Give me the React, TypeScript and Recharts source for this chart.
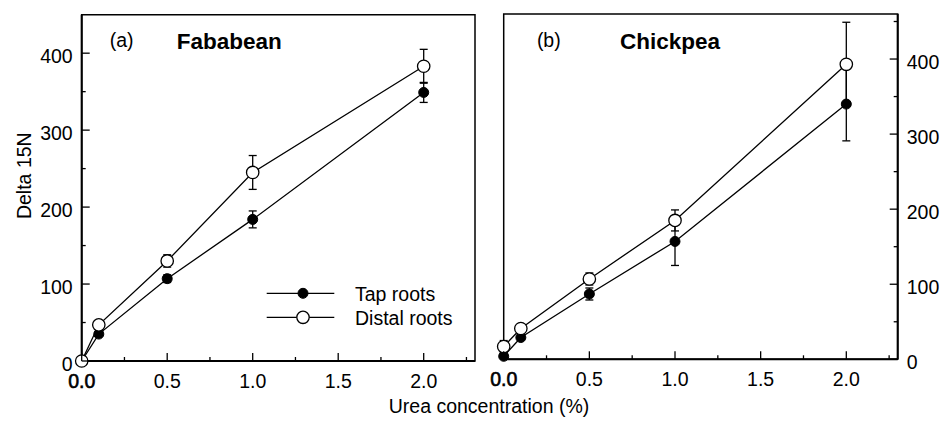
import React from 'react';
import { LineChart, Line, XAxis, YAxis, ErrorBar, ReferenceArea } from 'recharts';

const concentration = [0, 0.1, 0.5, 1.0, 2.0];
const fababeanTap = [0, 35, 107, 184, 349];
const fababeanTapErr = [0, 0, 5, 11, 13];
const fababeanDistal = [0, 47, 130, 245, 383];
const fababeanDistalErr = [0, 0, 8, 22, 22];
const chickpeaTap = [4, 29, 87, 157, 340];
const chickpeaTapErr = [0, 0, 8, 32, 49];
const chickpeaDistal = [17, 41, 107, 185, 393];
const chickpeaDistalErr = [8, 0, 8, 14, 56];

const xTicks = [0, 0.25, 0.5, 0.75, 1.0, 1.25, 1.5, 1.75, 2.0, 2.25];
const yTicks = [0, 50, 100, 150, 200, 250, 300, 350, 400, 450];

const buildRows = (tap: number[], tapErr: number[], distal: number[], distalErr: number[]) =>
  concentration.map((x, i) => ({ x, tap: tap[i], tapErr: tapErr[i], distal: distal[i], distalErr: distalErr[i] }));

const fababeanData = buildRows(fababeanTap, fababeanTapErr, fababeanDistal, fababeanDistalErr);
const chickpeaData = buildRows(chickpeaTap, chickpeaTapErr, chickpeaDistal, chickpeaDistalErr);

const FONT = '"Liberation Sans", Arial, sans-serif';
const FS = 19.5;

const XTick = (props: any) => {
  const { x, y, payload } = props;
  const v = payload.value;
  const major = Math.abs(v * 2 - Math.round(v * 2)) < 1e-6;
  return (
    <g>
      <line x1={x} x2={x} y1={y} y2={y - (major ? 8 : 4)} stroke="#000" strokeWidth={1.3} />
      {major && (
        <text x={x} y={y + 27} textAnchor="middle" fontSize={FS} fontFamily={FONT} fill="#000"
          stroke={v === 0 ? '#000' : 'none'} strokeWidth={v === 0 ? 0.6 : 0}>
          {v.toFixed(1)}
        </text>
      )}
    </g>
  );
};

const YTickLeft = (props: any) => {
  const { x, y, payload } = props;
  const v = payload.value;
  const major = v % 100 === 0;
  if (v > 440) return null;
  return (
    <g>
      <line x1={x} x2={x + (major ? 8 : 4)} y1={y} y2={y} stroke="#000" strokeWidth={1.3} />
      {major && (
        <text x={x - 9} y={y + 10} textAnchor="end" fontSize={FS} fontFamily={FONT} fill="#000">{v}</text>
      )}
    </g>
  );
};

const YTickRight = (props: any) => {
  const { x, y, payload } = props;
  const v = payload.value;
  const major = v % 100 === 0;
  return (
    <g>
      <line x1={x} x2={x - (major ? 8 : 4)} y1={y} y2={y} stroke="#000" strokeWidth={1.3} />
      {major && (
        <text x={x + 9} y={y + 10} textAnchor="start" fontSize={FS} fontFamily={FONT} fill="#000">{v}</text>
      )}
    </g>
  );
};

const renderLines = () => [
  <Line key="tap" type="linear" dataKey="tap" stroke="#000" strokeWidth={1.3} isAnimationActive={false}
    dot={{ r: 5, fill: '#000', stroke: '#000', strokeWidth: 1 }} activeDot={false}>
    <ErrorBar dataKey="tapErr" width={4} stroke="#000" strokeWidth={1.3} direction="y" />
  </Line>,
  <Line key="distal" type="linear" dataKey="distal" stroke="#000" strokeWidth={1.3} isAnimationActive={false}
    dot={{ r: 6.2, fill: '#fff', stroke: '#000', strokeWidth: 1.3 }} activeDot={false}>
    <ErrorBar dataKey="distalErr" width={4} stroke="#000" strokeWidth={1.3} direction="y" />
  </Line>,
];

export default function App() {
  return (
    <div style={{ position: 'absolute', left: 0, top: 0, width: 940, height: 421, background: '#fff', fontFamily: FONT }}>
      <div style={{ position: 'absolute', left: 0, top: 0 }}>
        <LineChart width={480} height={421} data={fababeanData}
          margin={{ top: 14.7, right: 5, bottom: 30, left: 21.7 }}>
          <ReferenceArea x1={0} x2={2.3} y1={0} y2={450} fill="none" stroke="#000" strokeWidth={1.5} ifOverflow="visible" />
          <XAxis dataKey="x" type="number" domain={[0, 2.3]} ticks={xTicks} interval={0} height={30}
            tickSize={0} tickMargin={0} tickLine={false} tick={<XTick />} axisLine={{ stroke: '#000', strokeWidth: 2 }} />
          <YAxis type="number" domain={[0, 450]} ticks={yTicks} interval={0} width={60}
            tickSize={0} tickMargin={0} tickLine={false} tick={<YTickLeft />} axisLine={{ stroke: '#000', strokeWidth: 2 }} />
          {renderLines()}
        </LineChart>
      </div>
      <div style={{ position: 'absolute', left: 460, top: 0 }}>
        <LineChart width={480} height={421} data={chickpeaData}
          margin={{ top: 14, right: 2.3, bottom: 31.7, left: 43.7 }}>
          <ReferenceArea x1={0} x2={2.3} y1={0} y2={460} fill="none" stroke="#000" strokeWidth={1.5} ifOverflow="visible" />
          <XAxis dataKey="x" type="number" domain={[0, 2.3]} ticks={xTicks} interval={0} height={30}
            tickSize={0} tickMargin={0} tickLine={false} tick={<XTick />} axisLine={{ stroke: '#000', strokeWidth: 2 }} />
          <YAxis orientation="right" type="number" domain={[0, 460]} ticks={yTicks} interval={0} width={40}
            tickSize={0} tickMargin={0} tickLine={false} tick={<YTickRight />} axisLine={{ stroke: '#000', strokeWidth: 2 }} />
          {renderLines()}
        </LineChart>
      </div>
      <svg width={940} height={421} style={{ position: 'absolute', left: 0, top: 0, pointerEvents: 'none' }}>
        <g fontFamily={FONT} fill="#000">
          <text x={121.7} y={46.5} textAnchor="middle" fontSize={FS}>(a)</text>
          <text x={176.7} y={49.3} fontSize={22.5} fontWeight="bold">Fababean</text>
          <text x={548.8} y={46.5} textAnchor="middle" fontSize={FS}>(b)</text>
          <text x={620} y={49.3} fontSize={22.5} fontWeight="bold">Chickpea</text>
          <text x={31.5} y={175.7} textAnchor="middle" fontSize={FS} transform="rotate(-90 31.5 175.7)">Delta 15N</text>
          <text x={489} y={413} textAnchor="middle" fontSize={FS}>Urea concentration (%)</text>
          <line x1={266.7} x2={334.3} y1={293.3} y2={293.3} stroke="#000" strokeWidth={1.3} />
          <circle cx={303} cy={293.3} r={5} fill="#000" stroke="#000" strokeWidth={1} />
          <text x={355} y={301} fontSize={FS}>Tap roots</text>
          <line x1={266.7} x2={334.3} y1={317.3} y2={317.3} stroke="#000" strokeWidth={1.3} />
          <circle cx={303} cy={317.3} r={6.2} fill="#fff" stroke="#000" strokeWidth={1.3} />
          <text x={355} y={325} fontSize={FS}>Distal roots</text>
        </g>
      </svg>
    </div>
  );
}
